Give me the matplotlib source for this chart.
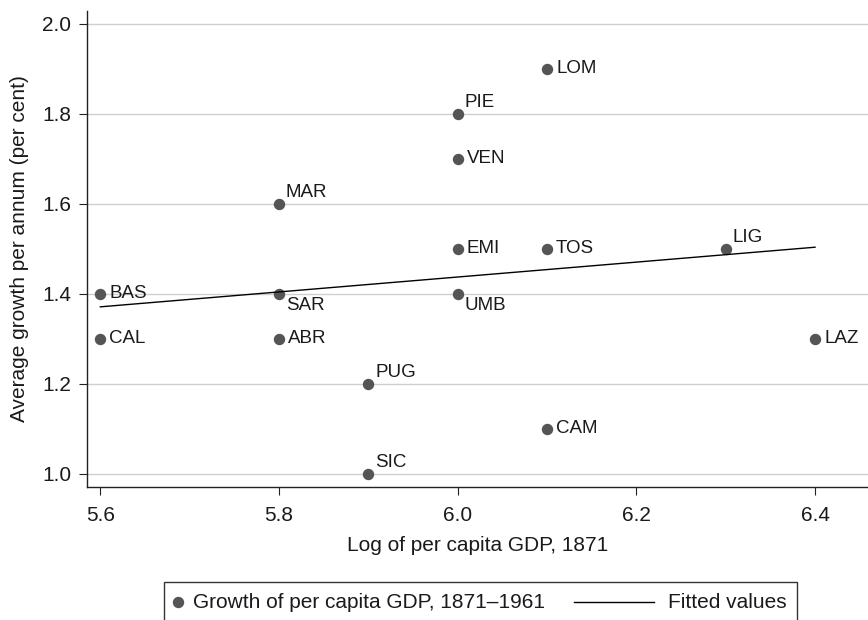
import matplotlib
matplotlib.use('Agg')
import matplotlib.pyplot as plt
from matplotlib.patches import Rectangle
from matplotlib.lines import Line2D
import numpy as np

plt.rcParams['font.family'] = ['Liberation Sans', 'DejaVu Sans']

# Regions: log of per capita GDP in 1871 and average growth 1871-1961
regions = ['LOM', 'PIE', 'VEN', 'MAR', 'EMI', 'TOS', 'LIG', 'BAS',
           'SAR', 'UMB', 'CAL', 'ABR', 'LAZ', 'PUG', 'CAM', 'SIC']
log_gdp = [6.1, 6.0, 6.0, 5.8, 6.0, 6.1, 6.3, 5.6,
           5.8, 6.0, 5.6, 5.8, 6.4, 5.9, 6.1, 5.9]
growth = [1.9, 1.8, 1.7, 1.6, 1.5, 1.5, 1.5, 1.4,
          1.4, 1.4, 1.3, 1.3, 1.3, 1.2, 1.1, 1.0]
# where each label sits relative to its marker (clock position)
label_pos = [3, 2, 3, 2, 3, 3, 2, 3,
             4, 4, 3, 3, 3, 2, 3, 2]

x_ticks = [5.6, 5.8, 6.0, 6.2, 6.4]
y_ticks = [1.0, 1.2, 1.4, 1.6, 1.8, 2.0]

W, H = 868, 620
fig = plt.figure(figsize=(W / 100, H / 100), dpi=100)
ax = fig.add_axes([87 / W, 1 - 487 / H, 1 - 87 / W, (487 - 11) / H])

text_col = '#1a1a1a'
dot_col = '#555555'

ax.plot(log_gdp, growth, 'o', color=dot_col, markersize=7.2, zorder=3,
        linestyle='none')

offsets = {3: (6.5, 0), 2: (5, 8), 4: (5, -8)}
for name, x, y, p in zip(regions, log_gdp, growth, label_pos):
    ax.annotate(name, (x, y), xytext=offsets[p], textcoords='offset points',
                ha='left', va='center', fontsize=13.5, color=text_col)

# least-squares fit across the observed range
slope, icpt = np.polyfit(log_gdp, growth, 1)
xs = np.array([min(log_gdp), max(log_gdp)])
ax.plot(xs, icpt + slope * xs, color='black', lw=1.0, zorder=4)

ax.set_xlim(5.5851, 6.4593)
ax.set_ylim(0.9711, 2.0283)
ax.set_xticks(x_ticks)
ax.set_xticklabels([f'{v:.1f}' for v in x_ticks])
ax.set_yticks(y_ticks)
ax.set_yticklabels([f'{v:.1f}' for v in y_ticks])
ax.yaxis.grid(True, color='#cfcfcf', lw=1.0, zorder=0)
ax.set_axisbelow(True)

for s in ['top', 'right']:
    ax.spines[s].set_visible(False)
for s in ['left', 'bottom']:
    ax.spines[s].set_color('#222222')
    ax.spines[s].set_linewidth(1.0)
ax.tick_params(axis='both', direction='out', length=5.5, width=0.8,
               color='#222222', labelsize=15, labelcolor=text_col)
ax.tick_params(axis='y', pad=6)
ax.tick_params(axis='x', pad=8)

ax.set_xlabel('Log of per capita GDP, 1871', fontsize=15, color=text_col,
              labelpad=8)
ax.set_ylabel('Average growth per annum (per cent)', fontsize=15,
              color=text_col, labelpad=9)

# legend box below the plot, drawn in figure pixels
def fx(px):
    return px / W

def fy(py):
    return 1 - py / H

fig.add_artist(Rectangle((fx(164), fy(624)), fx(797) - fx(164), fy(582) - fy(624),
                         transform=fig.transFigure, fill=False,
                         edgecolor='#333333', lw=1.0))
fig.add_artist(Line2D([fx(177.5)], [fy(602)], transform=fig.transFigure,
                      marker='o', color=dot_col, markersize=7.2, linestyle='none'))
fig.text(fx(193), fy(602), 'Growth of per capita GDP, 1871\u20131961',
         fontsize=15, color=text_col, ha='left', va='center')
fig.add_artist(Line2D([fx(574), fx(654)], [fy(602), fy(602)],
                      transform=fig.transFigure, color='black', lw=1.0))
fig.text(fx(668), fy(602), 'Fitted values', fontsize=15, color=text_col,
         ha='left', va='center')

fig.savefig('out.png', dpi=100)
